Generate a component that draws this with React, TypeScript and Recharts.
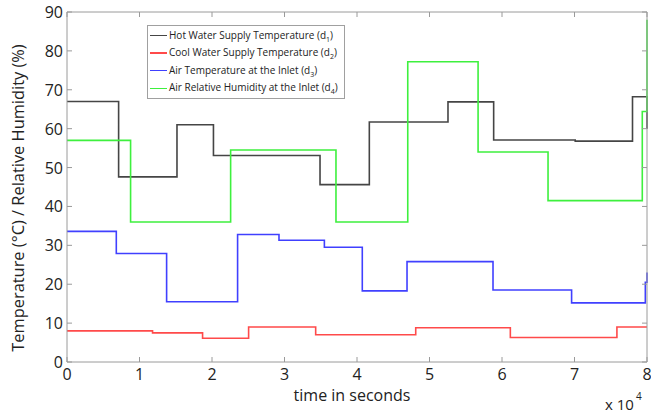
import React from "react";
import { LineChart, Line, XAxis, YAxis } from "recharts";

// breakpoints (seconds) and levels for each stair series
const hotTimes = [0, 7120, 15170, 20200, 34900, 41700, 52550, 58850, 70100, 78000, 80000];
const hotValues = [67, 47.6, 61, 53.1, 45.6, 61.7, 66.9, 57.1, 56.8, 68.2, 60];

const coolTimes = [0, 11800, 18700, 25050, 34300, 48100, 61150, 75850, 80000];
const coolValues = [8, 7.5, 6.1, 9, 7, 8.8, 6.3, 9, 9];

const airTimes = [0, 6800, 13740, 23530, 29240, 35500, 40730, 46900, 58760, 69600, 79770, 80000];
const airValues = [33.6, 27.9, 15.5, 32.8, 31.3, 29.5, 18.3, 25.8, 18.5, 15.2, 20.5, 23];

const humTimes = [0, 8770, 22570, 37100, 47000, 56700, 66350, 79350, 80000];
const humValues = [57, 36, 54.5, 36, 77.2, 54, 41.5, 64.4, 88];

const xTicks = [0, 10000, 20000, 30000, 40000, 50000, 60000, 70000, 80000];
const yTicks = [0, 10, 20, 30, 40, 50, 60, 70, 80, 90];

const seriesNames = [
  ["Hot Water Supply Temperature", "1"],
  ["Cool Water Supply Temperature", "2"],
  ["Air Temperature at the Inlet", "3"],
  ["Air Relative Humidity at the Inlet", "4"],
];
const seriesColors = ["#454545", "#ff4a4a", "#4040ff", "#3ef03e"];

const toPoints = (ts: number[], vs: number[]) => ts.map((t, i) => ({ t, v: vs[i] }));

const series = [
  toPoints(hotTimes, hotValues),
  toPoints(coolTimes, coolValues),
  toPoints(airTimes, airValues),
  toPoints(humTimes, humValues),
];

const FONT = "'Open Sans', sans-serif";
const AXIS = "#9a9a9a";
const TICK = 5;

const BottomTick = (p: any) => (
  <g>
    <line x1={p.x} y1={p.y} x2={p.x} y2={p.y - TICK} stroke={AXIS} />
    <text x={p.x} y={p.y + 18} textAnchor="middle" fontSize={16} fontFamily={FONT} fill="#222">
      {p.payload.value / 10000}
    </text>
  </g>
);

const TopTick = (p: any) => (
  <line x1={p.x} y1={p.y} x2={p.x} y2={p.y + TICK} stroke={AXIS} />
);

const LeftTick = (p: any) => (
  <g>
    <line x1={p.x} y1={p.y} x2={p.x + TICK} y2={p.y} stroke={AXIS} />
    <text x={p.x - 4} y={p.y + 6} textAnchor="end" fontSize={16} fontFamily={FONT} fill="#222">
      {p.payload.value}
    </text>
  </g>
);

const RightTick = (p: any) => (
  <line x1={p.x} y1={p.y} x2={p.x - TICK} y2={p.y} stroke={AXIS} />
);

export default function App() {
  return (
    <div style={{ position: "absolute", left: 0, top: 0, width: 651, height: 414, background: "#fff" }}>
      <LineChart width={651} height={414} margin={{ top: 11, right: 3, left: 0, bottom: 0 }}>
        <XAxis
          dataKey="t"
          type="number"
          domain={[0, 80000]}
          ticks={xTicks}
          height={52}
          stroke={AXIS}
          tickLine={false}
          tickSize={0}
          tickMargin={0}
          tick={<BottomTick />}
          interval={0}
        />
        <XAxis
          xAxisId="top"
          dataKey="t"
          orientation="top"
          type="number"
          domain={[0, 80000]}
          ticks={xTicks}
          height={1}
          stroke={AXIS}
          tickLine={false}
          tickSize={0}
          tickMargin={0}
          tick={<TopTick />}
          interval={0}
        />
        <YAxis
          type="number"
          domain={[0, 90]}
          ticks={yTicks}
          width={67}
          stroke={AXIS}
          tickLine={false}
          tickSize={0}
          tickMargin={0}
          tick={<LeftTick />}
          interval={0}
        />
        <YAxis
          yAxisId="right"
          orientation="right"
          type="number"
          domain={[0, 90]}
          ticks={yTicks}
          width={1}
          stroke={AXIS}
          tickLine={false}
          tickSize={0}
          tickMargin={0}
          tick={<RightTick />}
          interval={0}
        />
        {/* hidden copy bound to the top/right axes so the frame is drawn */}
        <Line
          xAxisId="top"
          yAxisId="right"
          data={series[1]}
          dataKey="v"
          stroke="none"
          dot={false}
          legendType="none"
          isAnimationActive={false}
        />
        {series.map((d, i) => (
          <Line
            key={i}
            data={d}
            dataKey="v"
            type="stepAfter"
            stroke={seriesColors[i]}
            strokeWidth={1.6}
            dot={false}
            isAnimationActive={false}
          />
        ))}
      </LineChart>

      {/* legend box */}
      <div
        style={{
          position: "absolute",
          left: 147,
          top: 25,
          width: 196,
          height: 72,
          border: "1px solid #a0a0a0",
          background: "#fff",
          fontFamily: FONT,
          fontSize: 10,
          color: "#222",
        }}
      >
        {seriesNames.map(([name, sub], i) => (
          <div key={i} style={{ position: "absolute", left: 2, top: 1 + i * 17.6, height: 17, display: "flex", alignItems: "center", whiteSpace: "nowrap" }}>
            <span style={{ display: "inline-block", width: 17, height: 1.6, background: seriesColors[i], marginRight: 2 }} />
            <span>
              {name} (d<sub style={{ fontSize: 7 }}>{sub}</sub>)
            </span>
          </div>
        ))}
      </div>

      {/* axis titles */}
      <div
        style={{
          position: "absolute",
          left: 17,
          top: 198,
          transform: "translate(-50%, -50%) rotate(-90deg)",
          whiteSpace: "nowrap",
          fontFamily: FONT,
          fontSize: 16.4,
          color: "#222",
        }}
      >
        Temperature (°C) / Relative Humidity (%)
      </div>
      <div
        style={{
          position: "absolute",
          left: 352,
          top: 395,
          transform: "translate(-50%, -50%)",
          whiteSpace: "nowrap",
          fontFamily: FONT,
          fontSize: 16,
          color: "#222",
        }}
      >
        time in seconds
      </div>
      <div style={{ position: "absolute", left: 605, top: 393, fontFamily: FONT, fontSize: 15, color: "#222", whiteSpace: "nowrap" }}>
        x 10<sup style={{ fontSize: 10, position: "relative", top: -4, marginLeft: 2 }}>4</sup>
      </div>
    </div>
  );
}
